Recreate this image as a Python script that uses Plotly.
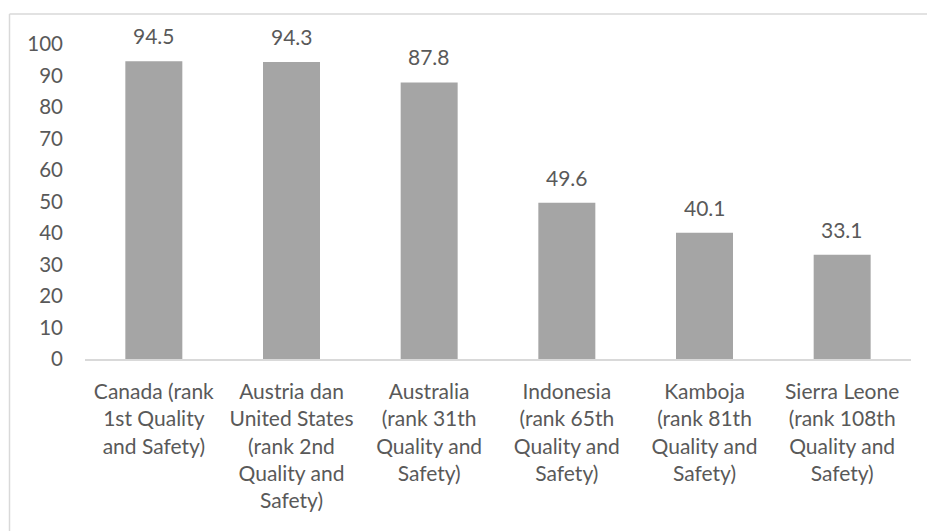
import plotly.graph_objects as go

categories = [
    "Canada (rank<br>1st Quality<br>and Safety)",
    "Austria dan<br>United States<br>(rank 2nd<br>Quality and<br>Safety)",
    "Australia<br>(rank 31th<br>Quality and<br>Safety)",
    "Indonesia<br>(rank 65th<br>Quality and<br>Safety)",
    "Kamboja<br>(rank 81th<br>Quality and<br>Safety)",
    "Sierra Leone<br>(rank 108th<br>Quality and<br>Safety)",
]
values = [94.5, 94.3, 87.8, 49.6, 40.1, 33.1]
y_ticks = [0, 10, 20, 30, 40, 50, 60, 70, 80, 90, 100]

FONT = "Lato, Open Sans, sans-serif"
TXT = "#595959"

fig = go.Figure()
fig.add_trace(go.Bar(
    x=categories, y=values,
    marker=dict(color="#A5A5A5", line=dict(width=0)),
    hoverinfo="skip",
))

for c, v in zip(categories, values):
    fig.add_annotation(
        x=c, y=v, text=f"{v:.1f}", showarrow=False,
        yanchor="bottom", yshift=11,
        font=dict(family=FONT, size=21, color=TXT),
    )

fig.update_layout(
    width=927, height=531,
    margin=dict(l=85, r=16, t=44, b=172),
    paper_bgcolor="white", plot_bgcolor="white",
    showlegend=False,
    bargap=0.586,
    font=dict(family=FONT, size=21, color=TXT),
    xaxis=dict(
        showline=True, linecolor="#D9D9D9", linewidth=1.5,
        showgrid=False, ticks="", ticklabelstandoff=13,
        tickfont=dict(family=FONT, size=21, color=TXT),
        fixedrange=True,
    ),
    yaxis=dict(
        range=[0, 100], tickvals=y_ticks, showgrid=False, zeroline=False,
        showline=False, ticks="", ticklabelstandoff=21,
        tickfont=dict(family=FONT, size=20.5, color=TXT),
        fixedrange=True,
    ),
    shapes=[
        dict(type="line", xref="paper", yref="paper",
             x0=-0.0914, x1=1.05, y0=1.0952, y1=1.0952,
             line=dict(color="#D9D9D9", width=1.5)),
        dict(type="line", xref="paper", yref="paper",
             x0=-0.0914, x1=-0.0914, y0=1.0952, y1=-0.6,
             line=dict(color="#D9D9D9", width=1.5)),
    ],
)

fig.write_html("out.html")
